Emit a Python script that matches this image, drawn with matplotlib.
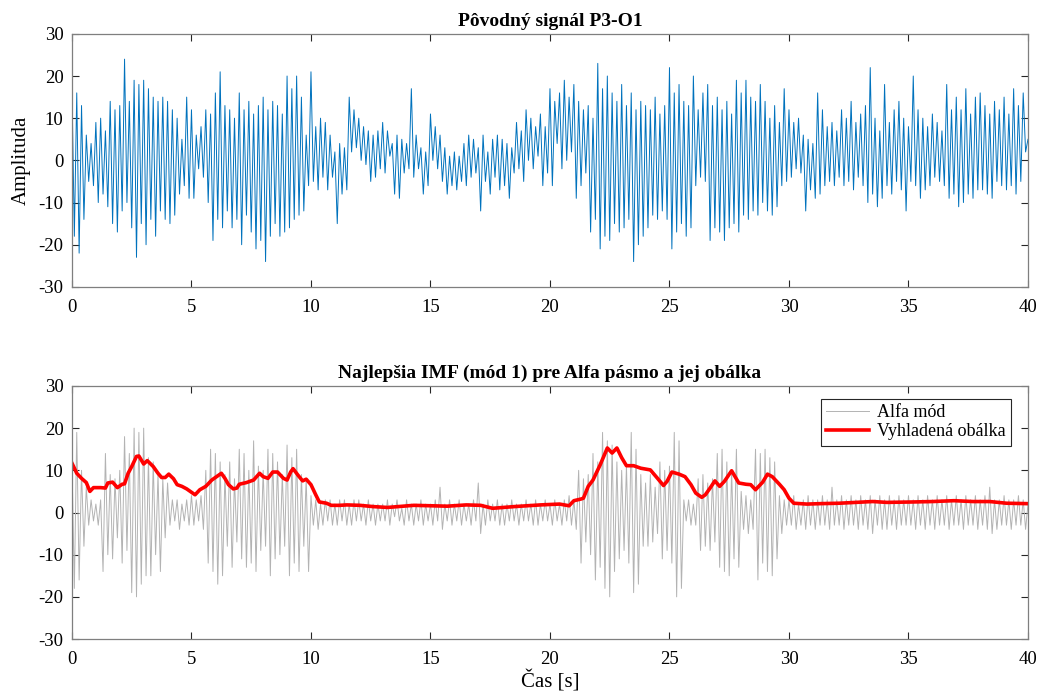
import numpy as np
import matplotlib
matplotlib.use('Agg')
import matplotlib.pyplot as plt

# ----- DATA (0.1 s steps) -----------------------------------------------------------
# original P3-O1 signal, one row per second
p3o1 = [
    17, -18, 16, -22, 13, -14, 6, -5, 4, -6,
    9, -10, 10, -8, 7, -11, 14, -15, 12, -17,
    13, -12, 24, -10, 14, -16, 19, -23, 18, -15,
    19, -20, 17, -14, 15, -18, 14, -12, 15, -14,
    14, -15, 12, -13, 10, -8, 5, -6, 15, -9,
    12, -9, 6, -2, 8, -4, 12, -10, 11, -19,
    16, -14, 21, -16, 13, -12, 12, -16, 10, -14,
    16, -20, 12, -13, 14, -17, 11, -21, 13, -19,
    15, -24, 12, -18, 14, -15, 13, -18, 11, -17,
    20, -16, 17, -14, 20, -13, 15, -12, 6, -6,
    21, -5, 8, -7, 10, -4, 9, -7, 6, -4,
    2, -15, 4, -8, 3, -7, 15, 2, 12, 3,
    10, 0, 8, -1, 7, -5, 6, -4, 7, -2,
    9, -3, 7, 1, 4, -8, 6, -9, 5, -3,
    4, -2, 17, -4, 6, -2, 3, -8, 2, -6,
    11, 0, 8, -2, 6, -5, 3, -8, 1, -6,
    2, -7, 1, -5, 4, -6, 6, -4, 5, -3,
    3, -12, 6, -5, 2, -8, 5, -4, 6, -7,
    5, -6, 4, -9, 3, -3, 9, -2, 7, -5,
    12, 0, 10, -2, 8, 1, 11, -6, 8, -3,
    17, -6, 14, 4, 16, -2, 19, 0, 15, 2,
    18, -9, 14, -6, 12, -3, 13, -17, 10, -14,
    23, -21, 17, -18, 20, -19, 16, -15, 14, -17,
    18, -16, 13, -14, 16, -24, 12, -20, 14, -18,
    13, -16, 12, -13, 15, -14, 11, -12, 13, -14,
    22, -21, 16, -17, 18, -15, 14, -18, 13, -16,
    20, -6, 12, -4, 16, -5, 18, -19, 13, -16,
    15, -17, 12, -19, 14, -16, 11, -15, 19, -17,
    16, -13, 19, -14, 15, -12, 14, -13, 18, -10,
    14, -12, 10, -13, 13, -11, 9, -6, 17, -5,
    12, -4, 9, -2, 10, -3, 6, -12, 5, -7,
    4, -9, 16, -8, 12, -6, 8, -5, 9, -6,
    7, -4, 12, -6, 10, -5, 14, -7, 9, -4,
    11, -6, 13, -10, 22, -8, 10, -11, 7, -9,
    18, -6, 9, -8, 12, -5, 14, -7, 10, -12,
    8, -5, 20, -6, 12, -9, 10, -7, 8, -6,
    11, -4, 9, -5, 7, -6, 18, -9, 12, -8,
    15, -11, 12, -10, 17, -8, 11, -9, 15, -7,
    16, -7, 13, -8, 11, -9, 14, -5, 12, -6,
    15, -7, 11, -6, 17, -8, 13, -5, 16, 2,
    5,
]

# best IMF (alpha mode), one row per second
alpha_mode = [
    12, -18, 19, -16, 10, -8, 6, -3, 3, -2,
    2, -3, 3, -14, 14, -10, 9, -11, 8, -6,
    10, -12, 18, -9, 14, -19, 20, -20, 19, -17,
    20, -15, 13, -15, 12, -10, 9, -14, 8, -6,
    7, -3, 3, -2, 3, -4, 2, -2, 3, -3,
    4, -3, 3, -2, 4, -4, 10, -12, 15, -14,
    14, -17, 12, -15, 9, -8, 12, -13, 8, -7,
    15, -11, 14, -13, 10, -12, 17, -14, 11, -9,
    10, -8, 15, -15, 14, -11, 12, -10, 9, -8,
    16, -15, 13, -12, 15, -14, 9, -8, 8, -14,
    4, -3, 3, -4, 2, -3, 3, -2, 3, -3,
    2, -3, 3, -2, 3, -3, 2, -3, 3, -2,
    3, -2, 2, -3, 3, -2, 2, -3, 2, -2,
    2, -2, 3, -3, 2, -1, 3, -2, 1, -3,
    3, -2, 2, -3, 2, -2, 3, -3, 2, -2,
    2, -3, 3, -2, 6, -4, 2, -2, 3, -3,
    2, -2, 3, -3, 2, -2, 2, -3, 3, -2,
    7, -5, 2, -3, 3, -2, 2, -2, 3, -3,
    2, -3, 2, -2, 3, -2, 2, -3, 2, -2,
    3, -2, 2, -3, 3, -3, 2, -2, 3, -2,
    2, -3, 3, -2, 2, -3, 3, -2, 4, -3,
    3, -4, 10, -12, 8, -7, 9, -10, 14, -16,
    12, -13, 19, -18, 17, -20, 16, -14, 12, -11,
    10, -9, 11, -12, 19, -19, 15, -17, 9, -8,
    7, -8, 9, -7, 6, -5, 12, -11, 10, -9,
    11, -12, 19, -20, 17, -18, 3, -2, 3, -3,
    2, -3, 8, -9, 9, -8, 7, -9, 8, -7,
    14, -13, 15, -14, 12, -15, 10, -11, 15, -13,
    5, -4, 4, -5, 3, -4, 15, -16, 14, -12,
    15, -14, 13, -15, 12, -11, 4, -5, 3, -3,
    3, -3, 4, -4, 2, -3, 3, -4, 4, -3,
    3, -4, 3, -3, 4, -3, 3, -4, 6, -3,
    3, -3, 4, -4, 3, -3, 4, -3, 3, -4,
    4, -3, 3, -4, 4, -5, 3, -3, 4, -4,
    3, -4, 4, -3, 3, -4, 4, -3, 3, -3,
    4, -3, 3, -4, 4, -3, 3, -4, 4, -3,
    3, -4, 4, -3, 3, -3, 4, -4, 3, -3,
    4, -3, 3, -4, 4, -3, 3, -3, 4, -4,
    3, -3, 4, -4, 6, -5, 3, -4, 3, -3,
    4, -3, 3, -4, 3, -3, 4, -3, 3, -4,
    2,
]

# smoothed envelope
env_t = [0, 0.2, 0.4, 0.6, 0.75, 0.9, 1.2, 1.4, 1.5, 1.7, 1.9, 2.1, 2.2, 2.35, 2.5,
         2.7, 2.8, 3.0, 3.15, 3.4, 3.6, 3.75, 3.9, 4.05, 4.25, 4.4, 4.6, 4.8, 5.0,
         5.15, 5.35, 5.6, 5.85, 6.05, 6.25, 6.4, 6.55, 6.75, 6.9, 7.0, 7.3, 7.6,
         7.85, 8.0, 8.2, 8.4, 8.6, 8.85, 9.0, 9.15, 9.25, 9.45, 9.65, 9.8, 10.0,
         10.2, 10.35, 10.65, 10.85, 11.2, 11.5, 12.05, 12.6, 13.2, 14.3, 15.7,
         16.5, 17.1, 17.6, 18.5, 19.6, 20.4, 20.8, 21.0, 21.3, 21.4, 21.6, 21.8,
         22.1, 22.4, 22.6, 22.8, 23.0, 23.2, 23.5, 23.8, 24.2, 24.5, 24.75, 24.9,
         25.1, 25.4, 25.65, 25.9, 26.1, 26.35, 26.5, 26.7, 26.9, 27.1, 27.3, 27.6,
         27.9, 28.2, 28.4, 28.6, 28.9, 29.1, 29.3, 29.6, 29.8, 30.0, 30.2, 30.75,
         31.3, 32.1, 33.5, 34.1, 35.2, 36.0, 36.9, 37.7, 38.4, 39.1, 40.0]
env_v = [11.7, 9.3, 8.1, 7.1, 5.0, 5.9, 5.9, 5.8, 7.0, 7.2, 5.9, 6.7, 6.8, 9.3, 10.9,
         13.3, 13.4, 11.5, 12.3, 10.9, 9.3, 8.3, 8.3, 9.1, 8.0, 6.6, 6.2, 5.6, 4.8,
         4.2, 5.4, 6.2, 7.7, 8.5, 9.3, 8.1, 6.6, 5.6, 5.8, 6.7, 7.1, 7.7,
         9.3, 8.5, 8.1, 9.6, 9.6, 8.1, 7.7, 9.6, 10.4, 8.9, 7.5, 7.9, 6.6,
         4.2, 2.5, 2.2, 1.7, 1.7, 1.8, 1.7, 1.4, 1.2, 1.7, 1.5,
         1.8, 1.7, 1.0, 1.4, 1.8, 2.0, 1.6, 2.8, 3.2, 3.4, 6.2, 7.7,
         11.3, 15.3, 14.1, 15.3, 13.0, 11.1, 11.1, 10.5, 10.1, 8.1, 6.4, 7.4,
         9.6, 9.1, 8.5, 6.6, 4.6, 3.6, 4.2, 5.8, 7.5, 6.2, 7.4, 9.9,
         7.0, 6.7, 6.6, 5.4, 7.2, 9.1, 8.5, 6.7, 5.4, 3.4, 2.2, 2.0,
         2.1, 2.2, 2.6, 2.4, 2.5, 2.6, 2.8, 2.6, 2.6, 2.2, 2.1]

# ----- PLOTTING ----------------------------------------------------------------------
plt.rcParams['font.family'] = ['Liberation Serif', 'DejaVu Serif']
plt.rcParams['font.size'] = 14
plt.rcParams['axes.unicode_minus'] = False
axcol = '#262626'

fig = plt.figure(figsize=(10.43, 6.98), dpi=100)
ax1 = fig.add_axes([0.069, 0.589, 0.9166, 0.3625])
ax2 = fig.add_axes([0.069, 0.0845, 0.9166, 0.3625])

t1 = np.linspace(0, 40, len(p3o1))
t2 = np.linspace(0, 40, len(alpha_mode))

ax1.plot(t1, p3o1, color='#0072BD', lw=0.7)
ax1.set_title('Pôvodný signál P3-O1', fontweight='bold', fontsize=14, pad=6)
ax1.set_ylabel('Amplituda', fontsize=15, labelpad=6)

ax2.plot(t2, alpha_mode, color='#b3b3b3', lw=0.7, label='Alfa mód')
ax2.plot(env_t, env_v, color='#ff0000', lw=2.6, label='Vyhladená obálka')
ax2.set_title('Najlepšia IMF (mód 1) pre Alfa pásmo a jej obálka', fontweight='bold',
              fontsize=14, pad=6)
ax2.set_xlabel('Čas [s]', fontsize=15, labelpad=2)
leg = ax2.legend(loc='upper right', bbox_to_anchor=(0.9875, 0.97), fontsize=13,
                 fancybox=False, framealpha=1, edgecolor=axcol, borderpad=0.3,
                 handlelength=2.4, handletextpad=0.4, labelspacing=0.1, borderaxespad=0.3)
leg.get_frame().set_linewidth(0.8)

for ax in (ax1, ax2):
    ax.set_xlim(0, 40)
    ax.set_ylim(-30, 30)
    ax.set_xticks(np.arange(0, 41, 5))
    ax.set_yticks(np.arange(-30, 31, 10))
    ax.tick_params(direction='in', top=True, right=True, length=5, width=0.8,
                   colors=axcol, labelsize=13.5, labelcolor='black')
    ax.tick_params(axis='x', pad=8.5)
    ax.tick_params(axis='y', pad=6)
    for s in ax.spines.values():
        s.set_color('#7f7f7f')
        s.set_linewidth(0.9)

fig.savefig('out.png', dpi=100)
